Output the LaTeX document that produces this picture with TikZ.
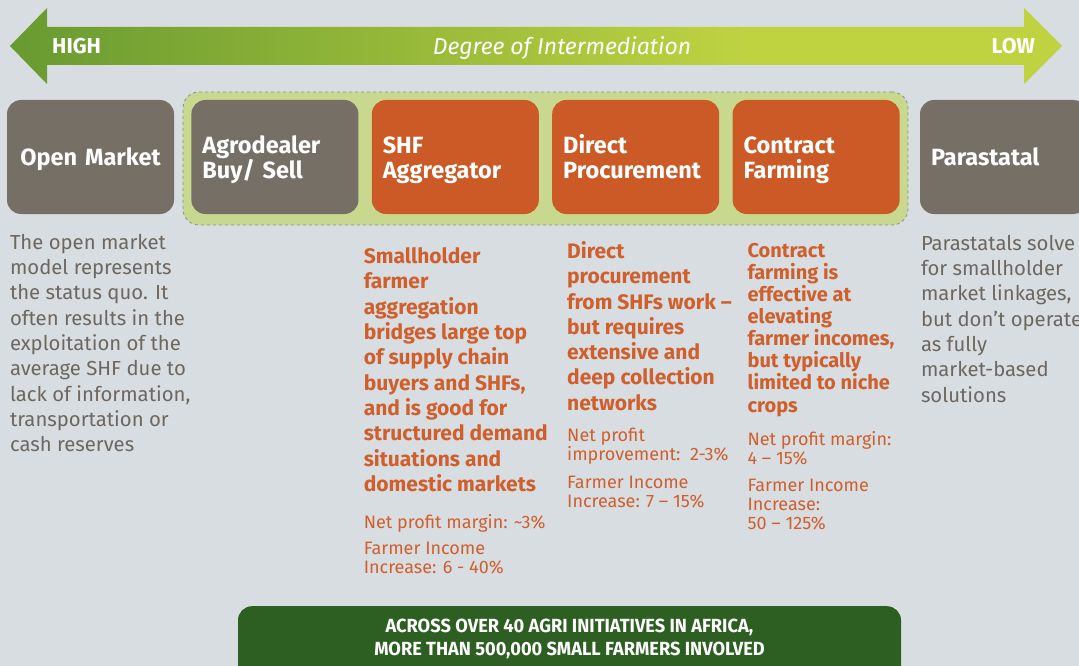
\documentclass[tikz,border=0pt]{standalone}
\usepackage{fontspec}
\setmainfont{Fira Sans}
\newfontfamily\condfont[FakeStretch=0.96]{Fira Sans}
\usetikzlibrary{positioning}

\definecolor{pagebg}{RGB}{216,221,225}
\definecolor{arrowdark}{RGB}{104,154,49}
\definecolor{arrowlight}{RGB}{191,211,65}
\definecolor{groupfill}{RGB}{201,216,143}
\definecolor{groupline}{RGB}{138,143,146}
\definecolor{boxgray}{RGB}{118,111,101}
\definecolor{boxorange}{RGB}{204,90,39}
\definecolor{txtgray}{RGB}{110,103,95}
\definecolor{txtorange}{RGB}{207,95,44}
\definecolor{bargreen}{RGB}{46,95,34}

\pgfdeclarehorizontalshading{intermedshade}{100bp}{color(0bp)=(arrowdark); color(25bp)=(arrowdark); color(60bp)=(arrowlight); color(100bp)=(arrowlight)}

\begin{document}
\begin{tikzpicture}[x=1pt, y=-1pt,
		modelbox/.style={rectangle, rounded corners=14pt, minimum height=114pt, minimum width=167pt},
		graybox/.style={modelbox, fill=boxgray},
		orangebox/.style={modelbox, fill=boxorange},
		modellbl/.style={inner sep=0, text width=145pt, align=left, text=white, font=\fontsize{23.5}{25}\selectfont\bfseries},
		groupbox/.style={rectangle, rounded corners=16pt, fill=groupfill, draw=groupline, dashed, line width=0.8pt},
		bodytxt/.style={inner sep=0, align=left, anchor=north west, text=txtgray, font=\fontsize{20.3}{25.3}\selectfont},
		keytxt/.style={inner sep=0, align=left, anchor=north west, text=txtorange, font=\fontsize{21}{25.3}\selectfont\bfseries},
		figtxt/.style={inner sep=0, align=left, anchor=north west, text=txtorange, font=\fontsize{18}{19}\selectfont},
		axislbl/.style={inner sep=0, text=white, font=\fontsize{21.5}{23}\selectfont\bfseries}
	]
		% page
		\useasboundingbox (0,0) rectangle (1079,666);
		\clip (0,0) rectangle (1079,666);
		\fill[pagebg] (0,0) rectangle (1079,666);
		
		% axis arrow
		\shade[shading=intermedshade] (10,46) -- (47,8) -- (47,27) -- (1024,27) -- (1024,8) -- (1062,46)
			-- (1024,84) -- (1024,65) -- (47,65) -- (47,84) -- cycle;
		\node[axislbl, anchor=west] (highlbl) at (52,46) {HIGH};
		\node[axislbl, anchor=east] (lowlbl) at (1035,46) {LOW};
		\node[inner sep=0, text=white, font=\fontsize{23}{26}\selectfont\itshape] (degreelbl) at (562,48.5) {Degree of Intermediation};
		
		% models
		\node[groupbox, minimum width=725pt, minimum height=133pt] (midgroup) at (545.5,158.5) {};
		
		\node[graybox] (openmkt) at (90.5,157) {};
		\node[graybox, right=17pt of openmkt] (agro) {};
		\node[orangebox, right=13pt of agro] (shfagg) {};
		\node[orangebox, right=13pt of shfagg] (directp) {};
		\node[orangebox, right=13pt of directp] (contractf) {};
		\node[graybox, right=20pt of contractf] (parastatal) {};
		
		\node[modellbl, align=center] (openmktlbl) at ([yshift=-2.5pt]openmkt.center) {Open Market};
		\node[modellbl] (agrolbl) at ([yshift=-2.5pt]agro.center) {Agrodealer\\Buy/ Sell};
		\node[modellbl] (shfagglbl) at ([yshift=-3pt]shfagg.center) {SHF\\Aggregator};
		\node[modellbl] (directplbl) at ([yshift=0.5pt]directp.center) {Direct\\Procurement};
		\node[modellbl] (contractflbl) at ([yshift=-3pt]contractf.center) {Contract\\Farming};
		\node[modellbl] (parastatallbl) at ([yshift=0.5pt]parastatal.center) {Parastatal};
		
		% descriptions
		\node[bodytxt] (openmkttxt) at ([xshift=3pt, yshift=-19.7pt]openmkt.south west)
		{The open market\\model represents\\the status quo. It\\often results in the\\exploitation of the\\average SHF due to\\lack of information,\\transportation or\\cash reserves};
		
		\node[keytxt] (shfaggtxt) at ([xshift=-8pt, yshift=-33.3pt]shfagg.south west)
		{Smallholder\\farmer\\aggregation\\bridges large top\\of supply chain\\buyers and SHFs,\\and is good for\\structured demand\\situations and\\domestic markets};
		\node[figtxt] (shfaggfig) at ([xshift=-8pt, yshift=-300.5pt]shfagg.south west)
		{Net profit margin: \textasciitilde3\%\\[7pt]Farmer Income\\Increase: 6 - 40\%};
		
		\node[keytxt] (directptxt) at ([xshift=15pt, yshift=-27pt]directp.south west)
		{Direct\\procurement\\from SHFs work --\\but requires\\extensive and\\deep collection\\networks};
		\node[figtxt] (directpfig) at ([xshift=15pt, yshift=-213.8pt]directp.south west)
		{Net profit\\improvement:\ \ 2-3\%\\[9pt]Farmer Income\\Increase: 7 -- 15\%};
		
		\node[keytxt, font=\fontsize{20}{22.1}\selectfont\bfseries] (contractftxt) at ([xshift=15pt, yshift=-28.7pt]contractf.south west)
		{Contract\\farming is\\effective at\\elevating\\farmer incomes,\\but typically\\limited to niche\\crops};
		\node[figtxt] (contractffig) at ([xshift=15pt, yshift=-217.3pt]contractf.south west)
		{Net profit margin:\\4 -- 15\%\\[8pt]Farmer Income\\Increase:\\50 -- 125\%};
		
		\node[bodytxt] (parastataltxt) at ([xshift=1pt, yshift=-20.7pt]parastatal.south west)
		{Parastatals solve\\for smallholder\\market linkages,\\but don’t operate\\as fully\\market-based\\solutions};
		
		% summary bar
		\node[rectangle, rounded corners=14pt, fill=bargreen, minimum width=663pt, minimum height=90pt, anchor=north] (summarybar) at (569.5,606) {};
		\node[inner sep=0, anchor=north, align=center, text=white, font=\condfont\fontsize{19}{23}\selectfont\bfseries] (summarytxt) at ([yshift=-13pt]summarybar.north)
		{ACROSS OVER 40 AGRI INITIATIVES IN AFRICA,\\MORE THAN 500,000 SMALL FARMERS INVOLVED};
\end{tikzpicture}
\end{document}
